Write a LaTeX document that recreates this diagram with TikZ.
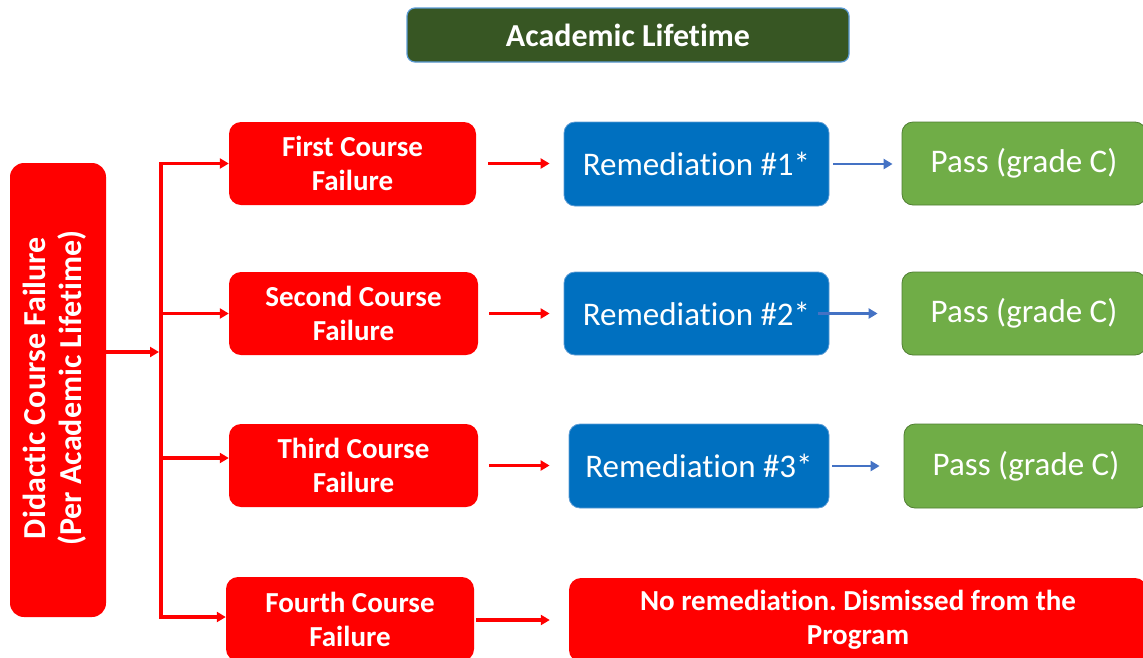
\documentclass[tikz,border=0pt]{standalone}
\usepackage{fontspec}
\setmainfont{Carlito}[Ligatures=CommonOff]
\usetikzlibrary{arrows.meta}
\frenchspacing
\definecolor{redbox}{HTML}{FF0000}
\definecolor{bluebox}{HTML}{0070C0}
\definecolor{blueedge}{HTML}{5B9BD5}
\definecolor{greenbox}{HTML}{70AD47}
\definecolor{greenedge}{HTML}{507E32}
\definecolor{titlefill}{HTML}{375623}
\definecolor{bluearrow}{HTML}{4472C4}
\tikzset{
  redbx/.style={fill=redbox, draw=none, rounded corners=12pt, text=white, align=center,
    font=\bfseries\fontsize{29}{34}\selectfont, inner sep=0pt},
  bluebx/.style={fill=bluebox, draw=blueedge, line width=0.8pt, rounded corners=11pt, text=white,
    font=\fontsize{33}{36}\selectfont, inner sep=0pt},
  greenbx/.style={fill=greenbox, draw=greenedge, line width=0.8pt, rounded corners=11pt, text=white,
    font=\fontsize{33}{36}\selectfont, inner sep=0pt},
  redarr/.style={draw=redbox, line width=3.2pt, -{Triangle[length=9pt,width=10pt]}},
  redln/.style={draw=redbox, line width=3.2pt},
  bluearr/.style={draw=bluearrow, line width=2.8pt, -{Triangle[length=9pt,width=10pt]}},
}
\begin{document}
\begin{tikzpicture}[x=1pt,y=-1pt]
\useasboundingbox (0,0) rectangle (1143,657);
% title
\node[fill=titlefill, draw=blueedge, line width=1.2pt, rounded corners=8pt, text=white,
  minimum width=442pt, minimum height=54pt, inner sep=0pt,
  font=\bfseries\fontsize{32}{34}\selectfont] (title) at (628,35) {Academic Lifetime};
% left box
\node[fill=redbox, rounded corners=14pt, minimum width=96pt, minimum height=454pt, inner sep=0pt] (L) at (58,390) {};
\node[rotate=90, text=white, align=center, font=\bfseries\fontsize{32}{36}\selectfont] (Lt) at (55,388)
  {Didactic Course Failure\\(Per Academic Lifetime)};
% failure boxes
\node[redbx, minimum width=247pt, minimum height=83pt] (f1) at (352.5,163.5) {First Course\\Failure};
\node[redbx, minimum width=249pt, minimum height=83pt] (f2) at (353.5,313.5) {Second Course\\Failure};
\node[redbx, minimum width=249pt, minimum height=83pt] (f3) at (353.5,465.5) {Third Course\\Failure};
\node[redbx, minimum width=248pt, minimum height=84pt] (f4) at (350,619) {Fourth Course\\Failure};
% remediation boxes
\node[bluebx, minimum width=265pt, minimum height=84pt] (r1) at (696.5,164) {Remediation \#1*};
\node[bluebx, minimum width=265pt, minimum height=83pt] (r2) at (696.5,313.5) {Remediation \#2*};
\node[bluebx, minimum width=260pt, minimum height=84pt] (r3) at (699,466) {Remediation \#3*};
% pass boxes
\node[greenbx, minimum width=244pt, minimum height=83pt] (p1) at (1024,163.5) {Pass (grade C)};
\node[greenbx, minimum width=244pt, minimum height=83pt] (p2) at (1024,313.5) {Pass (grade C)};
\node[greenbx, minimum width=244pt, minimum height=84pt] (p3) at (1026,466) {Pass (grade C)};
% dismissed
\node[redbx, minimum width=578pt, minimum height=84pt] (d) at (858,620)
  {No remediation. Dismissed from the\\Program};
% trunk
\coordinate (t0) at (161,352);
\coordinate (t1) at (161,163.5);
\coordinate (t2) at (161,313.5);
\coordinate (t3) at (161,458);
\coordinate (t4) at (161,617);
\draw[redarr] (L.east |- t0) -- ([xshift=-2pt]t0);
\draw[redln] ([yshift=-1.6pt]t1) -- ([yshift=1.6pt]t4);
\draw[redarr] ([xshift=-1.6pt]t1) -- (f1.west);
\draw[redarr] ([xshift=-1.6pt]t2) -- (f2.west);
\draw[redarr] ([xshift=-1.6pt]t3) -- (f3.west |- t3);
\draw[redarr] ([xshift=-1.6pt]t4) -- (f4.west |- t4);
% failure -> remediation
\draw[redarr, shorten <=12pt, shorten >=14pt] (f1.east) -- (r1.west |- f1.east);
\draw[redarr, shorten <=11pt, shorten >=14pt] (f2.east) -- (r2.west |- f2.east);
\draw[redarr, shorten <=11pt, shorten >=19pt] (f3.east) -- (r3.west |- f3.east);
\draw[redarr, shorten <=2pt, shorten >=19pt] (f4.east |- d.west) -- (d.west);
% remediation -> pass
\draw[bluearr, shorten <=4pt, shorten >=9pt] (r1.east) -- (p1.west |- r1.east);
\draw[bluearr] ([xshift=-11pt]r2.east) -- ([xshift=-24pt]p2.west |- r2.east);
\draw[bluearr, shorten <=3pt, shorten >=24pt] (r3.east) -- (p3.west |- r3.east);
\end{tikzpicture}
\end{document}
